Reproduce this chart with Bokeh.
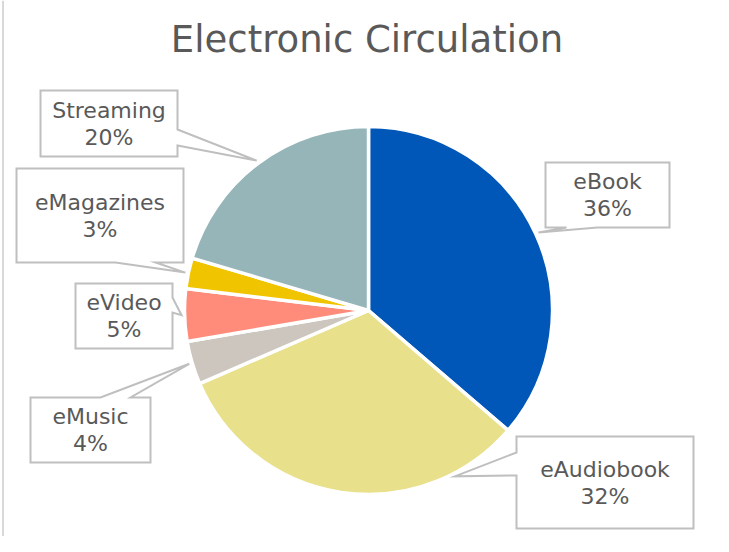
import math
from bokeh.plotting import figure
from bokeh.models import Range1d, ColumnDataSource
from bokeh.core.properties import value
from bokeh.embed import file_html
from bokeh.resources import INLINE

# ---------------- data ----------------
categories = ["eBook", "eAudiobook", "eMusic", "eVideo", "eMagazines", "Streaming"]
shares = [36.3, 32.2, 3.8, 4.6, 2.7, 20.4]
colors = ["#0057B7", "#E8E08A", "#CDC6BF", "#FF8B7B", "#F1C400", "#95B5B9"]
title_text = "Electronic Circulation"

# ---------------- layout (screen pixels, y down) ----------------
W, H = 713, 536
CX, CY_S, R = 368, 310, 184
FONT = "DejaVu Sans"
TXT = "#595959"
BOX_LINE = "#BFBFBF"
LABEL_PX = 22
TITLE_PX = 37
BASE_FIX = 0.35  # em correction for rendered baseline

# box: x0, x1, y0, y1 ; pointer side ; base positions along that side ; tip angle override (deg clockwise from top)
callouts = {
    "Streaming":  dict(box=(40, 177, 90, 156),  side="right",  base=(129, 145), tip=None),
    "eMagazines": dict(box=(16, 183, 168, 262), side="bottom", base=(115, 155), tip=None),
    "eVideo":     dict(box=(75, 172, 283, 348), side="right",  base=(297, 312), tip=None),
    "eMusic":     dict(box=(30, 150, 397, 462), side="top",    base=(100, 130), tip=None),
    "eBook":      dict(box=(545, 669, 162, 227), side="bottom", base=(566, 597), tip=None),
    "eAudiobook": dict(box=(516, 693, 436, 528), side="left",   base=(452, 475), tip=152.5),
}


def sy(y):
    return H - y


p = figure(width=W, height=H, x_range=Range1d(0, W), y_range=Range1d(0, H),
           output_backend="svg", toolbar_location=None, min_border=0,
           x_axis_location=None, y_axis_location=None)
p.grid.visible = False
p.outline_line_color = None
p.background_fill_color = "white"
p.border_fill_color = "white"

# left chart border
p.segment(x0=[2.5], y0=[sy(0)], x1=[2.5], y1=[sy(H)], line_color="#D9D9D9", line_width=2)

# ---------------- pie ----------------
total = float(sum(shares))
cum = 0.0
starts, ends, mids = [], [], []
for s in shares:
    t1 = cum / total * 2 * math.pi
    cum += s
    t2 = cum / total * 2 * math.pi
    starts.append(math.pi / 2 - t2)
    ends.append(math.pi / 2 - t1)
    mids.append((t1 + t2) / 2)

n = len(shares)
src = ColumnDataSource(dict(x=[CX] * n, y=[sy(CY_S)] * n, start=starts, end=ends, color=colors))
p.wedge(x="x", y="y", radius=R, start_angle="start", end_angle="end", direction="anticlock",
        fill_color="color", line_color="white", line_width=3.5, source=src)

# ---------------- callouts ----------------
xs, ys = [], []
l1x, l1y, l1t, l2x, l2y, l2t = [], [], [], [], [], []
lf = BASE_FIX * LABEL_PX
for cat, s, mid in zip(categories, shares, mids):
    c = callouts[cat]
    x0, x1, y0, y1 = c["box"]
    th = math.radians(c["tip"]) if c["tip"] is not None else mid
    tr = R + 3
    tx = CX + tr * math.sin(th)
    ty = CY_S - tr * math.cos(th)
    b1, b2 = c["base"]
    side = c["side"]
    pts = [(x0, y0)]
    if side == "top":
        pts += [(b1, y0), (tx, ty), (b2, y0)]
    pts += [(x1, y0)]
    if side == "right":
        pts += [(x1, b1), (tx, ty), (x1, b2)]
    pts += [(x1, y1)]
    if side == "bottom":
        pts += [(b2, y1), (tx, ty), (b1, y1)]
    pts += [(x0, y1)]
    if side == "left":
        pts += [(x0, b2), (tx, ty), (x0, b1)]
    xs.append([q[0] for q in pts])
    ys.append([sy(q[1]) for q in pts])
    cxb = (x0 + x1) / 2
    cyb = (y0 + y1) / 2
    l1x.append(cxb); l1y.append(sy(cyb - 5.5 - lf)); l1t.append(cat)
    l2x.append(cxb); l2y.append(sy(cyb + 21.5 - lf)); l2t.append(f"{round(s / total * 100)}%")

p.patches(xs=xs, ys=ys, fill_color="white", line_color=BOX_LINE, line_width=2, line_join="miter")
p.text(x=l1x, y=l1y, text=l1t, text_font=value(FONT), text_font_size=f"{LABEL_PX}px", text_color=TXT,
       text_align="center", text_baseline="alphabetic")
p.text(x=l2x, y=l2y, text=l2t, text_font=value(FONT), text_font_size=f"{LABEL_PX}px", text_color=TXT,
       text_align="center", text_baseline="alphabetic")

# title
p.text(x=[366.5], y=[sy(52 - BASE_FIX * TITLE_PX)], text=[title_text], text_font=value(FONT),
       text_font_size=f"{TITLE_PX}px", text_color=TXT, text_align="center", text_baseline="alphabetic")

open("out.html", "w").write(file_html(p, INLINE))
